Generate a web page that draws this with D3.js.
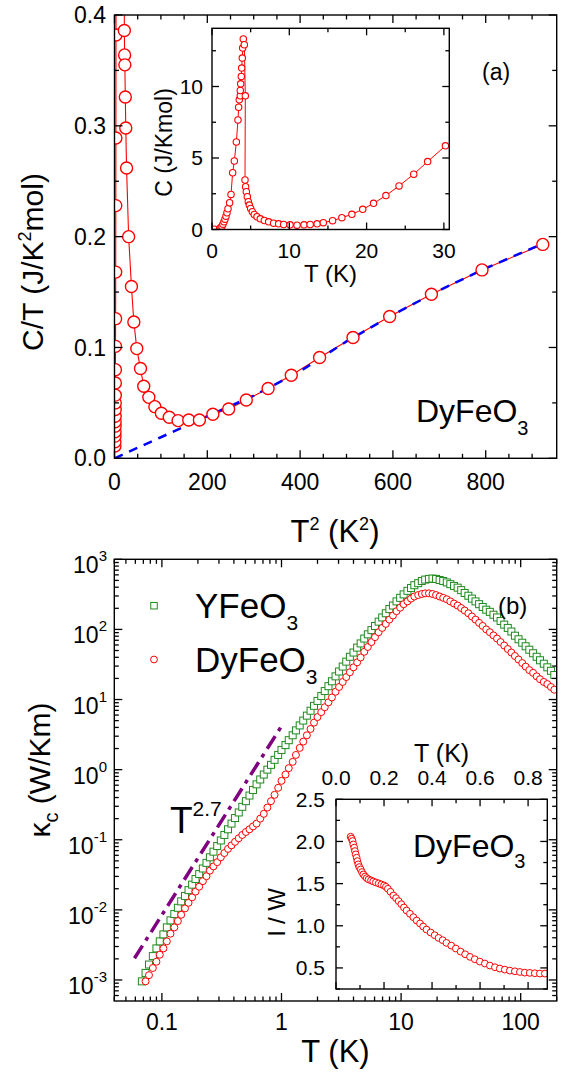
<!DOCTYPE html>
<html>
<head>
<meta charset="utf-8">
<script src="https://cdn.jsdelivr.net/npm/d3@7"></script>
<style>
  html, body { margin: 0; padding: 0; background: #fff; }
  svg { display: block; }
</style>
</head>
<body>
<svg id="fig" width="564" height="1072"></svg>
<script>
// ===================== data =====================
// (a) main panel: C/T versus T^2 for DyFeO3
const heatMainT2 = [0.9,1.0,1.1,1.2,1.3,1.4,1.5,1.6,1.7,1.8,1.9,2.0,2.2,2.4,2.6,2.8,3.0,3.2,
  4.3,6.0,8.4,10.2,12.3,14.4,16.4,17.5,18.6,18.2,
  21.2,21.8,22.3,23.3,24.3,26,30.5,36.5,41.7,48,56,63,74,87,101,118,137,160,183,212,
  246,284,331,381,442,514,593,683,792,923];
const heatMainCT = [0.011,0.015,0.020,0.024,0.029,0.033,0.038,0.044,0.050,0.057,0.068,0.080,0.101,0.126,0.168,0.228,0.289,0.382,
  0.70,1.0,1.5,2.0,2.5,3.0,3.3,3.0,2.2,0.83,
  0.386,0.364,0.355,0.326,0.298,0.262,0.200,0.155,0.123,0.099,0.081,0.065,0.055,0.0466,0.0406,0.037,0.034,0.0345,0.0346,0.0397,
  0.0445,0.0526,0.063,0.075,0.091,0.109,0.128,0.148,0.170,0.193];
// phonon fit (dashed)
const fitT2 = [0,100,200,300,400,500,600,700,800,925];
const fitCT = [0,0.019,0.038,0.0565,0.0785,0.1055,0.1295,0.1515,0.1715,0.194];
// (a) inset: C versus T
const heatInsetT = [0.3,0.99,1.16,1.29,1.42,1.55,1.68,1.81,1.94,2.07,2.28,2.46,2.67,2.89,3.15,3.36,3.45,3.53,3.66,3.66,
  3.71,3.79,3.84,3.92,3.97,4.05,4.18,4.31,4.27,4.35,4.44,4.57,4.70,4.83,5.00,5.22,5.47,5.82,6.25,6.77,
  7.33,7.97,8.62,9.27,10.1,11.0,11.9,12.7,13.6,14.4,15.6,16.8,18.1,19.5,20.9,22.5,24.2,26.1,27.9,30.2];
const heatInsetC = [0.02,0.07,0.14,0.23,0.37,0.54,0.72,0.93,1.17,1.45,1.87,2.45,3.97,4.79,6.12,7.66,8.55,9.07,9.35,9.72,
  10.19,10.70,11.29,11.99,12.69,13.32,12.92,9.35,3.46,2.99,2.64,2.29,1.94,1.71,1.47,1.24,1.05,0.89,0.75,0.63,
  0.54,0.44,0.40,0.35,0.33,0.30,0.33,0.35,0.40,0.48,0.62,0.83,1.06,1.41,1.83,2.37,3.05,3.87,4.75,5.85];

// (b) thermal conductivity kappa_c (W/Km) versus T (K)
const kappaT = [0.068,0.073,0.078,0.084,0.090,0.096,0.103,0.110,0.118,0.127,
  0.136,0.145,0.156,0.167,0.179,0.191,0.205,0.220,0.236,0.252,
  0.270,0.290,0.311,0.333,0.357,0.382,0.409,0.439,0.470,0.504,
  0.540,0.578,0.619,0.664,0.711,0.762,0.817,0.875,0.938,1.00,
  1.08,1.15,1.24,1.32,1.42,1.52,1.63,1.75,1.87,2.00,
  2.15,2.30,2.47,2.64,2.83,3.03,3.25,3.48,3.73,4.00,
  4.29,4.59,4.92,5.27,5.65,6.05,6.49,6.95,7.45,7.98,
  8.55,9.16,9.82,10.5,11.3,12.1,12.9,13.9,14.9,15.9,
  17.1,18.3,19.6,21.0,22.5,24.1,25.8,27.7,29.7,31.8,
  34.0,36.5,39.1,41.9,44.9,48.1,51.5,55.2,59.2,63.4,
  67.9,72.8,78.0,83.6,89.5,95.9,103,110,118,127,
  136,145,156,167,179,191];
const kappaY = [0.000955,0.00126,0.00166,0.00219,0.00282,0.00355,0.00447,0.00562,0.00708,0.00871,
  0.0107,0.0132,0.0158,0.0191,0.0229,0.0275,0.0324,0.0389,0.0468,0.0562,
  0.0676,0.0813,0.0977,0.117,0.141,0.170,0.204,0.245,0.295,0.355,
  0.427,0.513,0.617,0.724,0.851,1.00,1.17,1.38,1.62,1.91,
  2.24,2.63,3.09,3.63,4.27,5.01,5.89,6.92,8.13,9.55,
  11.2,13.2,15.5,18.2,21.4,25.1,29.5,34.7,40.7,46.8,
  55.0,63.1,74.1,85.1,97.7,112,129,148,170,195,
  219,251,282,316,355,389,427,457,490,513,
  525,531,525,507,490,468,442,417,394,363,
  331,302,275,251,229,209,191,178,162,148,
  132,117,105,93.3,81.3,72.4,64.6,57.5,51.3,45.7,
  40.7,36.3,32.4,28.8,25.7,22.4];
const kappaDy = [null,0.000955,0.00117,0.00148,0.00182,0.00229,0.00282,0.00355,0.00457,0.00562,
  0.00692,0.00851,0.0105,0.0126,0.0151,0.0182,0.0214,0.0257,0.0302,0.0363,
  0.0417,0.0479,0.0562,0.0646,0.0741,0.0832,0.0933,0.105,0.117,0.129,
  0.141,0.155,0.170,0.200,0.234,0.288,0.355,0.437,0.550,0.692,
  0.851,1.05,1.29,1.62,2.04,2.51,3.09,3.80,4.68,5.62,
  6.61,7.76,9.12,10.7,12.9,15.1,17.8,20.9,24.5,28.8,
  33.9,39.8,47.9,56.2,66.1,77.6,91.2,105,120,138,
  158,182,204,229,251,275,295,309,320,327,
  327,320,309,295,282,269,251,234,219,202,
  186,170,153,138,124,112,100,91.2,82.2,74.1,
  66.1,58.9,52.5,46.8,41.7,37.2,33.1,29.5,26.3,24.0,
  21.4,19.5,17.8,16.6,15.1,13.8];
// T^2.7 guide line end points
const guideT = [0.059, 0.99];
const guideK = [0.00204, 4.06];
// (b) inset: l / W versus T for DyFeO3
const mfpT = [0.061,0.065,0.069,0.072,0.076,0.079,0.082,0.086,0.089,0.093,
  0.097,0.103,0.108,0.114,0.121,0.128,0.136,0.146,0.155,0.166,
  0.178,0.189,0.200,0.208,0.216,0.227,0.239,0.250,0.261,0.272,
  0.283,0.294,0.308,0.322,0.336,0.350,0.363,0.377,0.394,0.411,
  0.427,0.444,0.460,0.480,0.499,0.519,0.538,0.558,0.578,0.599,
  0.620,0.641,0.662,0.682,0.703,0.724,0.745,0.766,0.786,0.807,
  0.828,0.849,0.870];
const mfpRatio = [2.056,2.033,2.005,1.965,1.926,1.886,1.847,1.807,1.767,1.728,
  1.696,1.668,1.637,1.609,1.585,1.565,1.550,1.538,1.526,1.514,
  1.502,1.490,1.478,1.462,1.439,1.403,1.359,1.328,1.292,1.256,
  1.217,1.181,1.142,1.102,1.062,1.027,0.991,0.955,0.920,0.888,
  0.856,0.829,0.797,0.765,0.730,0.694,0.662,0.631,0.603,0.575,
  0.552,0.528,0.508,0.492,0.480,0.468,0.460,0.452,0.444,0.441,
  0.437,0.433,0.433];

// tick values
const aXTicks = [0,200,400,600,800];
const aXMinor = [50,100,150,250,300,350,450,500,550,650,700,750,850,900];
const aYTicks = [0,0.1,0.2,0.3,0.4];
const aYMinor = [0.05,0.15,0.25,0.35];
const aiXTicks = [0,10,20,30];
const aiXMinor = [5,15,25];
const aiYTicks = [0,5,10];
const aiYMinor = [2.5,7.5,12.5];
const bXTicks = [0.1,1,10,100];
const bYExp = [-3,-2,-1,0,1,2,3];
const biXTicks = [0,0.2,0.4,0.6,0.8];
const biXMinor = [0.1,0.3,0.5,0.7];
const biYTicks = [0.5,1.0,1.5,2.0,2.5];
const biYMinor = [0.25,0.75,1.25,1.75,2.25];

// ===================== drawing =====================
const FONT = '"Liberation Sans", Arial, Helvetica, sans-serif';
const RED = "#ff0000", GREEN = "#1f8a1f", BLUE = "#0000ff", PURPLE = "#800080";
const svg = d3.select("#fig").attr("font-family", FONT);
svg.append("rect").attr("width", 564).attr("height", 1072).attr("fill", "#fff");

// scales
const ax  = d3.scaleLinear().domain([0, 953]).range([114.5, 556.7]);
const ay  = d3.scaleLinear().domain([0, 0.4]).range([458.3, 15]);
const aix = d3.scaleLinear().domain([0, 30.7]).range([212, 449.3]);
const aiy = d3.scaleLinear().domain([0, 14.07]).range([229.5, 28.3]);
const bx  = d3.scaleLog().domain([0.04, 200]).range([114.3, 556.7]);
const by  = d3.scaleLog().domain([Math.pow(10, -3.3), 1000]).range([1001, 559.3]);
const bix = d3.scaleLinear().domain([0, 0.88]).range([336, 547.3]);
const biy = d3.scaleLinear().domain([0.25, 2.5]).range([989, 799.3]);

// a nested svg viewport clips the marks to the plotting area, in page coordinates
function plotArea(xs, ys, bg) {
  const [x0, x1] = xs.range(), [y0, y1] = ys.range();
  const w = x1 - x0, h = y0 - y1;
  const vp = svg.append("svg").attr("x", x0).attr("y", y1).attr("width", w).attr("height", h)
    .attr("viewBox", `${x0} ${y1} ${w} ${h}`).attr("overflow", "hidden");
  if (bg) vp.append("rect").attr("x", x0).attr("y", y1).attr("width", w).attr("height", h).attr("fill", "#fff");
  return vp;
}

// frame with inward ticks on all four sides
function frameAndTicks(xs, ys, xMaj, xMin, yMaj, yMin, maj, mnr) {
  const [x0, x1] = xs.range(), [y0, y1] = ys.range();
  const g = svg.append("g").attr("stroke", "#000").attr("fill", "none");
  const tick = (a, b, c, d) => g.append("line").attr("x1", a).attr("y1", b).attr("x2", c).attr("y2", d).attr("stroke-width", 1.3);
  [[xMaj, maj], [xMin, mnr]].forEach(([vals, len]) => vals.forEach(v => {
    const X = xs(v);
    tick(X, y0, X, y0 - len);
    tick(X, y1, X, y1 + len);
  }));
  [[yMaj, maj], [yMin, mnr]].forEach(([vals, len]) => vals.forEach(v => {
    const Y = ys(v);
    tick(x0, Y, x0 + len, Y);
    tick(x1, Y, x1 - len, Y);
  }));
  g.append("rect").attr("x", x0).attr("y", y1).attr("width", x1 - x0).attr("height", y0 - y1)
    .attr("stroke-width", 1.4);
}

// tick labels, placed from the scales
function xLabels(s, vals, fmt, y, size) {
  vals.forEach(v => svg.append("text").attr("x", s(v)).attr("y", y).attr("text-anchor", "middle")
    .attr("font-size", size).attr("fill", "#000").text(fmt(v)));
}
function yLabels(s, vals, fmt, x, size) {
  vals.forEach(v => svg.append("text").attr("x", x).attr("y", s(v)).attr("dy", "0.35em").attr("text-anchor", "end")
    .attr("font-size", size).attr("fill", "#000").text(fmt(v)));
}

// text with sub/superscripts: parts = [[text, size, dy], ...]
function richText(x, y, parts, anchor, rotate) {
  const t = svg.append("text").attr("text-anchor", anchor || "start").attr("fill", "#000");
  if (rotate) t.attr("transform", `translate(${x},${y}) rotate(-90)`);
  else t.attr("x", x).attr("y", y);
  parts.forEach(([s, size, dy]) => t.append("tspan").attr("font-size", size).attr("dy", dy || 0).text(s));
  return t;
}

// ---------- panel (a): main ----------
const mainPts = heatMainT2.map((v, i) => [v, heatMainCT[i]]);
const fitPts = fitT2.map((v, i) => [v, fitCT[i]]);
const gA = plotArea(ax, ay, false);
gA.append("path").datum(mainPts)
  .attr("d", d3.line().x(d => ax(d[0])).y(d => ay(d[1])))
  .attr("fill", "none").attr("stroke", RED).attr("stroke-width", 1.1);
gA.append("path").datum(fitPts)
  .attr("d", d3.line().x(d => ax(d[0])).y(d => ay(d[1])))
  .attr("fill", "none").attr("stroke", BLUE).attr("stroke-width", 2.5).attr("stroke-dasharray", "9,7");
gA.selectAll("circle").data(mainPts.filter(d => d[1] <= 0.42)).join("circle")
  .attr("cx", d => ax(d[0])).attr("cy", d => ay(d[1])).attr("r", 6)
  .attr("fill", "#fff").attr("stroke", RED).attr("stroke-width", 1.4);
frameAndTicks(ax, ay, aXTicks, aXMinor, aYTicks, aYMinor, 8, 4.5);
xLabels(ax, aXTicks, d3.format("d"), 490, 23);
yLabels(ay, aYTicks, d3.format(".1f"), 106, 23);
richText(335, 542, [["T", 31], ["2", 18, -12], [" (K", 31, 12], ["2", 18, -12], [")", 31, 12]], "middle");
richText(43.3, 262, [["C/T (J/K", 30], ["2", 18, -12], ["mol)", 30, 12]], "middle", true);
richText(416, 422, [["DyFeO", 32], ["3", 20, 13]]);
richText(482, 80, [["(a)", 23]]);

// ---------- panel (a): inset ----------
const insetPts = heatInsetT.map((v, i) => [v, heatInsetC[i]]);
const gAi = plotArea(aix, aiy, true);
gAi.append("path").datum(insetPts)
  .attr("d", d3.line().x(d => aix(d[0])).y(d => aiy(d[1])))
  .attr("fill", "none").attr("stroke", RED).attr("stroke-width", 1);
gAi.selectAll("circle").data(insetPts).join("circle")
  .attr("cx", d => aix(d[0])).attr("cy", d => aiy(d[1])).attr("r", 3.2)
  .attr("fill", "#fff").attr("stroke", RED).attr("stroke-width", 1.1);
frameAndTicks(aix, aiy, aiXTicks, aiXMinor, aiYTicks, aiYMinor, 7, 4);
xLabels(aix, aiXTicks, d3.format("d"), 258, 21);
yLabels(aiy, aiYTicks, d3.format("d"), 203, 21);
richText(330.5, 282, [["T (K)", 24]], "middle");
richText(171.5, 142.5, [["C (J/Kmol)", 23]], "middle", true);

// ---------- panel (b): main ----------
const gB = plotArea(bx, by, false);
const yPts = kappaT.map((t, i) => [t, kappaY[i]]);
const dyPts = kappaT.map((t, i) => [t, kappaDy[i]]).filter(d => d[1] != null);
const guidePts = guideT.map((t, i) => [t, guideK[i]]);
gB.append("path").datum(guidePts)
  .attr("d", d3.line().x(d => bx(d[0])).y(d => by(d[1])))
  .attr("fill", "none").attr("stroke", PURPLE).attr("stroke-width", 3.5)
  .attr("stroke-dasharray", "15,6,4,6");
const sq = 7;
gB.append("g").selectAll("rect").data(yPts).join("rect")
  .attr("x", d => bx(d[0]) - sq / 2).attr("y", d => by(d[1]) - sq / 2)
  .attr("width", sq).attr("height", sq)
  .attr("fill", "#fff").attr("stroke", GREEN).attr("stroke-width", 1);
gB.append("g").selectAll("circle").data(dyPts).join("circle")
  .attr("cx", d => bx(d[0])).attr("cy", d => by(d[1])).attr("r", 3.5)
  .attr("fill", "#fff").attr("stroke", RED).attr("stroke-width", 1);

const bYMajorVals = bYExp.map(e => Math.pow(10, e));
const bXMinor = bx.ticks().filter(v => !bXTicks.some(m => Math.abs(m - v) < 1e-6 * m));
const bYMinor = by.ticks().filter(v => !bYMajorVals.some(m => Math.abs(m - v) < 1e-6 * m));
frameAndTicks(bx, by, bXTicks, bXMinor, bYMajorVals, bYMinor, 8, 4.5);
xLabels(bx, bXTicks, d => String(d), 1030, 23);
bYExp.forEach(e => {
  const yy = by(Math.pow(10, e));
  richText(107, yy + 14, [["10", 23], [String(e), 15, -12]], "end");
});
richText(335.5, 1062, [["T (K)", 31]], "middle");
richText(50, 770, [["\u03BA", 30], ["c", 20, 8], [" (W/Km)", 30, -8]], "middle", true);
richText(170, 833, [["T", 37], ["2.7", 21, -17]]);
// legend
svg.append("rect").attr("x", 154 - 3.25).attr("y", 605.7 - 3.25).attr("width", 6.5).attr("height", 6.5)
  .attr("fill", "#fff").attr("stroke", GREEN).attr("stroke-width", 1);
svg.append("circle").attr("cx", 154).attr("cy", 659.5).attr("r", 3.4)
  .attr("fill", "#fff").attr("stroke", RED).attr("stroke-width", 1);
richText(195, 618, [["YFeO", 35], ["3", 21, 12]]);
richText(195, 672, [["DyFeO", 35], ["3", 21, 12]]);
richText(498, 614, [["(b)", 24]]);

// ---------- panel (b): inset ----------
const mfpPts = mfpT.map((t, i) => [t, mfpRatio[i]]);
const gBi = plotArea(bix, biy, true);
gBi.selectAll("circle").data(mfpPts).join("circle")
  .attr("cx", d => bix(d[0])).attr("cy", d => biy(d[1])).attr("r", 3.4)
  .attr("fill", "#fff").attr("stroke", RED).attr("stroke-width", 1);
frameAndTicks(bix, biy, biXTicks, biXMinor, biYTicks, biYMinor, 7, 4);
xLabels(bix, biXTicks, d3.format(".1f"), 785, 21);
yLabels(biy, biYTicks, d3.format(".1f"), 325, 21);
richText(441.6, 762, [["T (K)", 25]], "middle");
richText(285, 912, [["l / W", 24]], "middle", true);
richText(413, 857, [["DyFeO", 32], ["3", 20, 11]]);
</script>
</body>
</html>
